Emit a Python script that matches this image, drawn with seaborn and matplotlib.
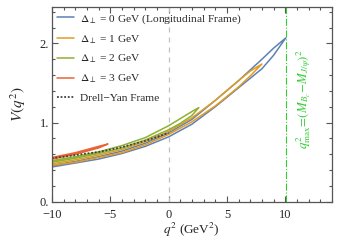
import numpy as np
import pandas as pd
import matplotlib
matplotlib.use('Agg')
import matplotlib.pyplot as plt
import seaborn as sns
from matplotlib.ticker import MultipleLocator, FuncFormatter

sns.set_style('ticks')
plt.rcParams['font.family'] = ['Liberation Serif', 'DejaVu Serif']
plt.rcParams['mathtext.fontset'] = 'stix'

# 各曲线数据 (q^2, 下支 / 上支)
q_d0 = [-10, -8, -6, -4, -2, 0, 2, 4, 6, 8, 9, 10.05]
v_d0_low = [0.44, 0.49, 0.54, 0.61, 0.70, 0.82, 0.98, 1.20, 1.44, 1.68, 1.85, 2.07]
v_d0_up = [0.46, 0.51, 0.57, 0.64, 0.74, 0.87, 1.04, 1.28, 1.53, 1.80, 1.94, 2.07]

q_d1 = [-10, -8, -6, -4, -2, 0, 2, 4, 6, 7, 8.0]
v_d1_low = [0.46, 0.50, 0.56, 0.62, 0.72, 0.85, 1.01, 1.21, 1.45, 1.59, 1.74]
v_d1_up = [0.48, 0.53, 0.59, 0.66, 0.76, 0.89, 1.06, 1.28, 1.53, 1.65, 1.74]

q_d2 = [-10, -8, -6, -4, -2, 0, 1, 2, 2.6]
v_d2_low = [0.50, 0.55, 0.61, 0.68, 0.78, 0.91, 0.99, 1.09, 1.19]
v_d2_up = [0.52, 0.57, 0.63, 0.71, 0.81, 0.96, 1.05, 1.14, 1.19]

q_d3 = [-10, -9, -8, -7, -6, -5.2]
v_d3_low = [0.54, 0.57, 0.60, 0.64, 0.68, 0.73]
v_d3_up = [0.56, 0.59, 0.62, 0.66, 0.70, 0.73]

q_dy = [-10, -8, -6, -4, -2, 0]
v_dy = [0.55, 0.59, 0.63, 0.69, 0.77, 0.87]

q2_max = 10.1

labels = [r'$\Delta_\perp$ = 0 GeV (Longitudinal Frame)',
          r'$\Delta_\perp$ = 1 GeV',
          r'$\Delta_\perp$ = 2 GeV',
          r'$\Delta_\perp$ = 3 GeV']
colors = ['#5e81b5', '#e19c24', '#8fb032', '#eb6235']

curves = [(q_d0, v_d0_low, v_d0_up), (q_d1, v_d1_low, v_d1_up),
          (q_d2, v_d2_low, v_d2_up), (q_d3, v_d3_low, v_d3_up)]

fig = plt.figure(figsize=(3.39, 2.42), dpi=100)
ax = fig.add_axes([0.153, 0.166, 0.826, 0.805])

ax.axvline(0, color='#c0c0c0', lw=0.9, ls=(0, (4, 4)), zorder=1)
ax.axvline(q2_max, color='#33cc33', lw=0.8, ls='-.', zorder=1)

for (q, lo, up), lab, c in zip(curves, labels, colors):
    # 闭合回路: 下支到端点, 再沿上支返回
    df = pd.DataFrame({'q2': list(q) + list(q[::-1]),
                       'V': list(lo) + list(up[::-1])})
    sns.lineplot(data=df, x='q2', y='V', sort=False, estimator=None,
                 color=c, lw=1.1, label=lab, ax=ax)

sns.lineplot(x=q_dy, y=v_dy, sort=False, estimator=None, color='#404040',
             lw=1.3, ls=(0, (1, 1)), label='Drell\u2212Yan Frame', ax=ax)

ax.text(11.6, 1.3, r'$q^2_{\rm max}\!=\!(M_{B_c}\!-\!M_{J/\psi})^2$',
        color='#33cc33', rotation=90, fontsize=9.3, ha='center', va='center')

ax.set_xlim(-10, 14)
ax.set_ylim(0, 2.46)
ax.xaxis.set_major_locator(MultipleLocator(5))
ax.xaxis.set_minor_locator(MultipleLocator(1))
ax.yaxis.set_major_locator(MultipleLocator(1))
ax.yaxis.set_minor_locator(MultipleLocator(0.2))
ax.xaxis.set_major_formatter(FuncFormatter(lambda v, p: f'{v:.0f}'.replace('-', '\u2212')))
ax.yaxis.set_major_formatter(FuncFormatter(lambda v, p: f'{v:.0f}.'))
ax.tick_params(which='both', direction='in', top=True, right=True,
               labelsize=9, color='#555555', width=0.8)
ax.tick_params(axis='x', pad=5)
ax.tick_params(axis='y', pad=2)
ax.tick_params(which='major', length=4.5)
ax.tick_params(which='minor', length=2.5)
for s in ax.spines.values():
    s.set_color('#555555')
    s.set_linewidth(0.9)

ax.set_xlabel(r'$q^2$ (GeV$^2$)', fontsize=9.5, labelpad=0)
ax.set_ylabel(r'$V(q^2)$', fontsize=11, labelpad=8)

ax.legend(loc='upper left', frameon=False, fontsize=8.2, handlelength=1.5,
          handletextpad=0.5, labelspacing=0.65, borderaxespad=0.05)

fig.savefig('out.png', dpi=100)
